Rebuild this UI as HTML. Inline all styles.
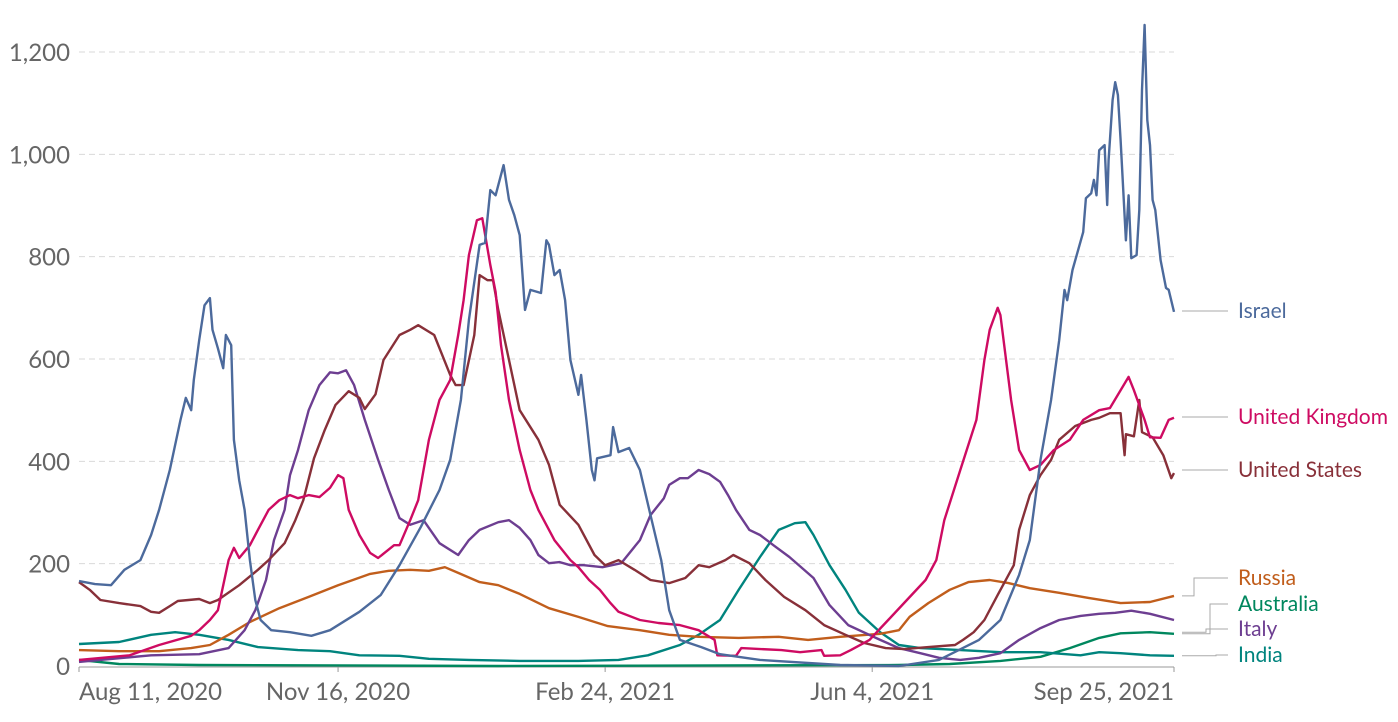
<!DOCTYPE html>
<html><head><meta charset="utf-8"><style>
body{margin:0;background:#fff;font-family:"Liberation Sans",sans-serif;}
svg text{font-family:"Lato","Liberation Sans",sans-serif;}
</style></head><body>
<svg id="chart" width="1398" height="717" xmlns="http://www.w3.org/2000/svg"></svg>
<script>
const yTicks=[0,200,400,600,800,1000,1200];
const yTickLabels=["0","200","400","600","800","1,000","1,200"];
const xTickDays=[0,97,197,297,410];
const xTickLabels=["Aug 11, 2020","Nov 16, 2020","Feb 24, 2021","Jun 4, 2021","Sep 25, 2021"];
const seriesNames=["Israel","United Kingdom","United States","Russia","Australia","Italy","India"];
const israelDays=[0,6,12,17,23,27,30,34,38,40,42,43,45,47,49,50,52,54,55,57,58,60,62,64,66,68,72,79,87,94,105,113,120,128,135,139,143,146,150,152,154,156,159,161,163,165,167,169,173,175,176,178,180,182,184,187,188,190,192,193,194,199,200,202,206,210,214,218,221,225,233,240,255,285,307,322,337,345,352,356,360,364,367,369,370,372,376,377,379,380,381,382,384,385,385.5,387,388,389,390,392,393,394,396,397,398,399,400,401,402,403,405,407,408,410];
const israelVals=[166,160,158,188,207,256,305,383,481,524,500,559,637,705,719,657,621,582,647,627,442,363,305,207,129,90,70,66,59,70,106,139,197,272,344,403,520,676,823,827,930,920,979,911,881,842,696,735,729,832,823,764,774,715,598,530,569,481,383,363,406,412,467,418,426,383,295,207,109,51,37,23,12,2,0,12,51,90,178,246,403,520,637,735,715,774,848,914,924,950,920,1008,1018,901,989,1106,1141,1116,1028,832,920,797,803,891,1126,1253,1067,1018,911,891,793,739,735,692];
const ukDays=[0,19,30,42,45,49,52,56,58,60,64,67,71,75,79,82,86,90,94,97,99,101,105,109,112,118,120,124,127,131,135,139,142,144,146,149,151,154,156,158,161,165,169,172,178,184,187,191,195,199,202,210,217,225,232,238,239,246,248,263,270,278,279,285,289,296,303,310,317,321,324,330,336,339,341,344,345,349,352,356,360,365,371,376,382,386,390,393,395,399,401,405,408,410];
const ukVals=[12,21,41,59,70,90,109,207,231,211,236,266,305,324,334,328,334,330,348,373,367,305,256,221,211,236,236,285,324,442,520,559,647,715,803,871,875,784,731,627,520,422,344,305,246,207,193,168,149,123,106,90,84,80,70,51,21,20,35,31,27,31,20,21,31,51,90,129,168,207,285,383,481,598,657,700,686,520,422,383,393,422,442,481,500,504,539,565,539,481,447,446,481,485];
const usDays=[0,4,8,15,23,27,30,34,37,45,49,52,60,67,71,77,81,84,88,92,96,101,105,107,111,114,120,124,127,133,139,141,144,148,150,153,155,157,161,165,172,176,180,187,193,197,202,208,214,221,227,232,236,242,245,251,257,264,272,279,287,294,302,309,318,328,331,335,339,344,350,352,356,360,364,367,373,379,382,386,390,391.5,392,395,397,398,402,406,409,410];
const usVals=[164,149,129,123,117,106,104,117,127,131,123,129,158,188,207,240,285,324,406,461,510,537,524,502,531,598,647,657,666,647,569,549,549,647,764,754,754,696,598,500,442,393,315,276,217,197,207,188,168,162,172,197,193,207,217,201,168,135,109,80,61,45,35,33,37,41,51,66,90,139,197,266,334,373,403,442,469,481,485,494,494,412,453,449,520,457,447,412,367,377];
const russiaDays=[0,15,30,42,49,56,64,75,86,97,109,116,124,131,137,142,150,157,165,176,187,198,210,221,232,247,262,273,285,300,307,311,318,326,333,341,348,356,367,378,390,401,410];
const russiaVals=[31,29,29,35,41,61,86,113,135,158,180,186,188,186,193,182,164,158,141,113,96,78,70,61,57,55,57,51,57,63,70,96,123,149,164,168,162,152,143,133,123,125,137];
const australiaDays=[0,15,45,157,307,326,345,360,371,382,390,401,410];
const australiaVals=[12,4,2,0,2,4,10,18,35,55,64,66,63];
const italyDays=[0,8,27,45,56,62,66,70,73,77,79,82,86,90,94,97,100,103,107,112,116,120,124,129,135,142,146,150,157,161,165,169,172,176,180,184,189,196,203,210,214,219,221,225,228,232,236,240,243,246,251,255,260,266,275,281,288,300,307,315,322,330,337,345,352,360,367,375,382,388,394,401,410];
const italyVals=[8,12,21,23,35,70,109,168,246,305,373,422,500,549,574,572,578,549,481,403,344,289,276,285,240,217,246,266,281,285,270,246,217,201,203,197,197,193,201,246,295,328,354,367,367,383,375,360,334,305,266,256,236,213,172,119,80,51,35,25,16,12,16,25,51,74,90,98,102,104,108,102,90,76,66];
const indiaDays=[0,15,27,36,45,56,67,82,94,105,120,131,146,165,187,202,213,225,232,240,247,255,262,268,272,275,281,287,292,300,307,315,330,345,360,375,382,390,401,410];
const indiaVals=[43,47,61,66,61,51,37,31,29,21,20,14,12,10,10,12,21,41,61,90,149,213,266,279,281,256,197,149,104,66,41,35,31,27,27,21,27,25,21,20];

const W=1398,H=717,X0=79,X1=1174,Y0=666,Y1=52,DMAX=410,VMAX=1200;
const xs=d=>X0+(X1-X0)*d/DMAX;
const ys=v=>Y0-(Y0-Y1)*v/VMAX;
const svg=document.getElementById('chart');
const NS='http://www.w3.org/2000/svg';
function mk(tag,attrs){const e=document.createElementNS(NS,tag);for(const k in attrs)e.setAttribute(k,attrs[k]);svg.appendChild(e);return e;}

yTicks.forEach((v,i)=>{
  if(v>0){const g=mk('line',{x1:X0,x2:X1,y1:ys(v),y2:ys(v),stroke:'#dadada','stroke-dasharray':'6,4','stroke-width':1});
  
  }
  const t=mk('text',{x:70,y:ys(v)+9,'text-anchor':'end','font-size':24,fill:'#666'});
  t.textContent=yTickLabels[i];
  
  
});
const ax=mk('line',{x1:X0,x2:X1,y1:Y0+1,y2:Y0+1,stroke:'#999','stroke-width':1});


xTickDays.forEach((d,i)=>{
  const tk=mk('line',{x1:xs(d),x2:xs(d),y1:Y0+1,y2:Y0+6,stroke:'#999'});
  
  
  const anchor=i===0?'start':(i===xTickDays.length-1?'end':'middle');
  const t=mk('text',{x:xs(d),y:700,'text-anchor':anchor,'font-size':24,fill:'#666'});
  t.textContent=xTickLabels[i];
  
  
});

const colors=["#4c6a9c","#ce0b62","#883039","#c15e1c","#00875e","#6d3e91","#00847e"];
const dayArrs=[israelDays,ukDays,usDays,russiaDays,australiaDays,italyDays,indiaDays];
const valArrs=[israelVals,ukVals,usVals,russiaVals,australiaVals,italyVals,indiaVals];
const order=[4,6,3,5,2,1,0];
order.forEach(i=>{
  const pts=dayArrs[i].map((d,j)=>xs(d).toFixed(1)+','+ys(valArrs[i][j]).toFixed(1)).join(' ');
  const p=mk('polyline',{points:pts,fill:'none',stroke:colors[i],'stroke-width':2.4,'stroke-linejoin':'round'});
  
  
});

const labelY=[311,417,470,578,604,629,655];
const bendX=[0,0,0,1194,1210,1206,1216];
seriesNames.forEach((n,i)=>{
  const endY=ys(valArrs[i][valArrs[i].length-1]);
  const ly=labelY[i];
  let d;
  if(bendX[i]===0) d=`M1182,${ly} L1228,${ly}`;
  else d=`M1182,${endY} L${bendX[i]},${endY} L${bendX[i]},${ly} L1228,${ly}`;
  const c=mk('path',{d:d,fill:'none',stroke:'#aaa','stroke-width':1});
  
  
  const t=mk('text',{x:1238,y:ly+7,'font-size':21,fill:colors[i]});
  t.textContent=n;
  
  
});
</script>
</body></html>
